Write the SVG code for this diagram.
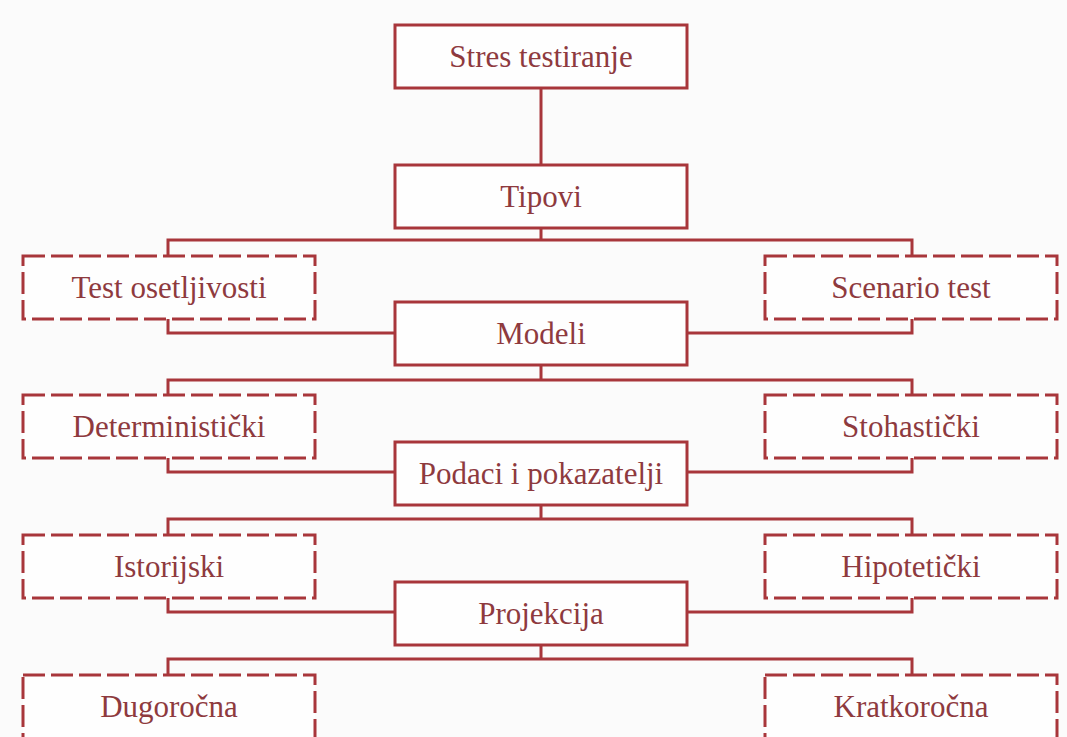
<svg xmlns="http://www.w3.org/2000/svg" width="1067" height="737" viewBox="0 0 1067 737">
<defs>
<style>
.box{fill:#fefefe;stroke:#a8363b;stroke-width:3}
.dash{fill:#fefefe;stroke:#a8363b;stroke-width:3;stroke-dasharray:22 6}
.lbl{font-family:"Liberation Serif","Times New Roman",serif;font-size:31px;fill:#8e3a3e;text-anchor:middle}
.conn{fill:none;stroke:#a8363b;stroke-width:3}
</style>
</defs>
<rect x="0" y="0" width="1067" height="737" fill="#fbfbfb"/>
<g id="connectors" class="conn">
<path d="M541 88V165"/>
<path d="M541 228V240M168 256V240H912V256"/>
<path d="M168 319V333H395M912 319V333H687"/>
<path d="M541 365V380M168 395V380H912V395"/>
<path d="M168 458V472H395M912 458V472H687"/>
<path d="M541 505V519M168 535V519H912V535"/>
<path d="M168 598V612H395M912 598V612H687"/>
<path d="M541 645V659M168 675V659H912V675"/>
</g>
<g id="n-stres"><rect class="box" x="395" y="25" width="292" height="63"/><text class="lbl" x="541" y="67">Stres testiranje</text></g>
<g id="n-tipovi"><rect class="box" x="395" y="165" width="292" height="63"/><text class="lbl" x="541" y="207">Tipovi</text></g>
<g id="n-test-osetljivosti"><rect class="dash" x="23" y="256" width="292" height="63"/><text class="lbl" x="169" y="298">Test osetljivosti</text></g>
<g id="n-scenario"><rect class="dash" x="765" y="256" width="292" height="63"/><text class="lbl" x="911" y="298">Scenario test</text></g>
<g id="n-modeli"><rect class="box" x="395" y="302" width="292" height="63"/><text class="lbl" x="541" y="344">Modeli</text></g>
<g id="n-deterministicki"><rect class="dash" x="23" y="395" width="292" height="63"/><text class="lbl" x="169" y="437">Deterministički</text></g>
<g id="n-stohasticki"><rect class="dash" x="765" y="395" width="292" height="63"/><text class="lbl" x="911" y="437">Stohastički</text></g>
<g id="n-podaci"><rect class="box" x="395" y="442" width="292" height="63"/><text class="lbl" x="541" y="484">Podaci i pokazatelji</text></g>
<g id="n-istorijski"><rect class="dash" x="23" y="535" width="292" height="63"/><text class="lbl" x="169" y="577">Istorijski</text></g>
<g id="n-hipoteticki"><rect class="dash" x="765" y="535" width="292" height="63"/><text class="lbl" x="911" y="577">Hipotetički</text></g>
<g id="n-projekcija"><rect class="box" x="395" y="582" width="292" height="63"/><text class="lbl" x="541" y="624">Projekcija</text></g>
<g id="n-dugorocna"><rect class="dash" x="23" y="675" width="292" height="70"/><text class="lbl" x="169" y="717">Dugoročna</text></g>
<g id="n-kratkorocna"><rect class="dash" x="765" y="675" width="292" height="70"/><text class="lbl" x="911" y="717">Kratkoročna</text></g>
</svg>
